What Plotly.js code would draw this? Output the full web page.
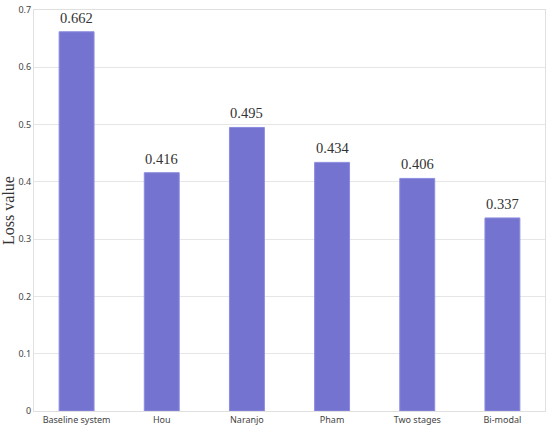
<!DOCTYPE html>
<html><head><meta charset="utf-8">
<script src="https://cdn.plot.ly/plotly-3.0.1.min.js"></script>
<style>html,body{margin:0;padding:0;background:#fff}#chart{width:550px;height:429px}</style>
</head><body><div id="chart"></div>
<script>
const categories = ["Baseline system","Hou","Naranjo","Pham","Two stages","Bi-modal"];
const lossValues = [0.662,0.416,0.495,0.434,0.406,0.337];
const valueLabels = ["0.662","0.416","0.495","0.434","0.406","0.337"];
const yTicks = [0,0.1,0.2,0.3,0.4,0.5,0.6,0.7];
const yTickLabels = ["0","0.1","0.2","0.3","0.4","0.5","0.6","0.7"];

const labelAnnotations = categories.map((c,i)=>({
  x:c, y:lossValues[i], xref:"x", yref:"y", text:valueLabels[i], showarrow:false,
  yanchor:"bottom", yshift:4,
  font:{family:"Liberation Serif, Times New Roman, serif", size:14.5, color:"#333"}
}));

Plotly.newPlot("chart",[{
  type:"bar", x:categories, y:lossValues,
  marker:{color:"#7474D0", line:{color:"#8c8ce0", width:1}},
  hoverinfo:"none"
}],{
  width:550, height:429,
  margin:{l:34,r:5,t:10,b:18},
  bargap:0.59,
  paper_bgcolor:"#fff", plot_bgcolor:"#fff",
  showlegend:false,
  annotations:labelAnnotations,
  xaxis:{showgrid:false, showline:true, linecolor:"#e0e0e0", mirror:true, ticks:"",
    tickfont:{family:"Noto Sans, Open Sans, sans-serif", size:9, color:"#444"}},
  yaxis:{range:[0,0.7], tickvals:yTicks, ticktext:yTickLabels, showgrid:true, gridcolor:"#e6e6e6",
    showline:true, linecolor:"#e0e0e0", mirror:true, zeroline:false, ticks:"",
    tickfont:{family:"Noto Sans, Open Sans, sans-serif", size:9, color:"#444"},
    title:{text:"Loss value", font:{family:"Liberation Serif, Times New Roman, serif", size:16, color:"#333"}, standoff:6}}
},{staticPlot:true});
</script></body></html>
